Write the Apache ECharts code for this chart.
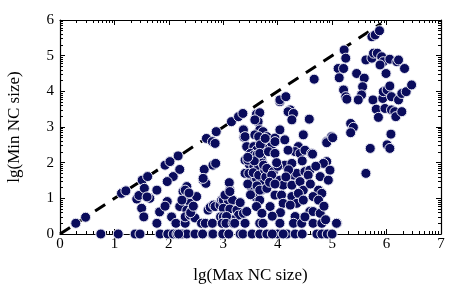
<!DOCTYPE html>
<html>
<head>
<meta charset="utf-8">
<script src="https://cdn.jsdelivr.net/npm/echarts@6/dist/echarts.min.js"></script>
<style>html,body{margin:0;padding:0;background:#fff}#c{width:458px;height:286px}</style>
</head>
<body>
<div id="c"></div>
<script>
// lg(Max NC size)
const lgMax = [
 0.29,0.47,1.13,1.21,1.41,1.45,1.51,1.61,1.55,1.50,1.54,1.65,1.60,1.78,1.78,1.83,1.93,2.02,2.17,2.08,1.97,2.20,1.97,1.93,2.05,2.13,2.20,2.26,2.33,2.34,2.39,2.33,2.42,2.51,2.30,2.30,2.39,2.48,2.24,2.30,2.37,2.40,2.45,
 2.65,2.63,2.68,2.63,2.69,2.80,2.85,2.87,2.81,2.86,2.72,2.76,2.82,2.85,2.94,2.97,3.00,3.09,3.17,3.03,3.12,3.11,3.12,3.00,3.12,3.25,3.28,3.37,3.31,3.43,2.95,3.00,3.09,3.15,3.06,2.60,2.67,2.80,2.98,3.05,3.18,3.21,3.40,3.67,
 3.15,3.28,3.36,3.37,3.38,3.40,3.43,3.40,3.40,3.61,3.67,3.64,3.58,3.67,3.73,3.58,3.56,3.61,3.65,3.80,3.95,3.88,3.74,3.68,
 3.50,3.55,3.62,3.70,3.48,3.56,3.64,3.72,3.52,3.61,3.71,3.52,3.60,3.70,3.58,3.67,3.61,3.71,3.47,3.55,3.65,3.45,3.50,3.45,3.57,3.62,3.76,3.78,3.45,
 4.04,4.04,4.15,4.23,4.19,4.29,4.26,4.58,4.04,4.47,4.99,4.90,3.77,3.95,4.13,4.38,4.32,4.41,4.50,4.62,4.64,4.19,3.67,3.83,3.95,4.90,4.84,4.13,4.26,3.74,3.80,3.92,3.89,4.29,4.35,4.50,4.59,4.56,4.78,4.96,4.93,4.04,4.10,4.26,4.41,4.47,3.67,3.80,3.95,4.07,4.75,4.81,4.65,4.75,4.26,4.35,4.38,4.47,3.86,4.10,4.23,4.59,4.65,4.32,4.78,3.73,4.04,4.29,4.44,4.65,4.81,5.09,4.00,3.98,4.20,4.15,3.85,3.95,4.60,4.70,4.45,4.05,3.90,4.50,4.85,4.88,
 4.67,4.90,5.01,5.11,5.21,5.13,5.22,5.25,5.21,5.25,5.27,5.45,5.59,5.56,5.54,5.48,5.73,5.79,5.87,5.62,5.73,5.76,5.83,5.91,5.94,5.88,5.99,6.06,6.19,6.22,6.33,5.75,5.81,5.85,5.93,5.94,6.01,6.06,5.97,6.09,6.15,6.17,6.28,6.09,6.22,6.28,6.36,6.46,5.34,5.39,5.34,6.08,6.01,6.06,5.70,5.62,5.08,
 0.75,1.07,1.38,1.47,1.84,1.98,2.08,2.15,2.24,2.33,2.48,2.79,2.81,2.98,2.99,3.31,3.36,3.53,3.67,3.80,4.00,4.17,4.32,4.45,4.72,4.81,4.91,5.00,2.18,2.62,3.10,3.90,4.10
];
// lg(Min NC size)
const lgMin = [
 0.30,0.47,1.14,1.21,0.98,1.08,1.51,1.61,1.28,0.72,0.48,1.00,1.04,1.23,0.30,0.62,1.93,2.03,2.19,1.61,1.47,1.81,0.91,0.78,0.48,0.30,0.77,1.19,1.33,1.09,0.86,0.67,0.67,1.05,0.30,0.48,0.53,0.45,0.95,1.23,1.15,0.60,0.78,
 1.81,1.51,1.42,1.56,2.68,2.59,2.54,2.87,1.93,1.98,0.67,0.75,0.81,0.77,0.81,0.95,0.95,0.95,0.95,1.09,1.23,1.44,1.19,0.72,0.70,0.67,0.53,0.58,0.88,0.63,0.48,0.48,0.45,0.40,0.49,0.30,0.30,0.30,0.30,0.30,0.30,0.30,0.30,0.30,
 3.15,3.29,3.38,2.92,2.71,2.73,2.45,2.07,1.70,3.36,3.40,3.15,3.20,2.92,2.87,2.78,2.45,2.35,2.73,2.73,2.69,2.45,2.40,2.50,
 2.26,2.20,2.22,2.10,1.95,1.90,1.86,1.99,1.51,1.56,1.47,1.30,1.14,1.23,1.05,0.95,0.77,0.58,1.70,1.72,1.65,1.40,1.10,2.07,2.05,1.35,1.80,1.60,2.15,
 3.71,3.76,3.85,3.48,3.43,3.38,3.20,3.22,2.92,2.78,2.73,2.59,2.68,2.59,2.64,2.45,2.31,2.26,2.35,2.26,2.24,2.35,2.26,2.31,2.26,2.03,1.98,1.93,1.98,1.93,1.84,1.75,1.65,1.65,1.70,1.75,1.79,1.65,1.61,1.79,1.51,1.51,1.37,1.37,1.47,1.23,1.23,1.28,1.09,1.09,1.23,1.14,1.05,0.95,1.05,0.86,1.14,0.95,0.77,0.86,0.81,0.63,0.63,0.49,0.58,0.30,0.30,0.30,0.30,0.30,0.30,0.30,1.90,2.00,1.80,1.60,1.45,1.40,1.40,1.90,2.05,0.60,0.50,0.48,0.78,0.40,
 4.34,2.56,2.70,4.64,4.64,4.38,5.16,4.93,4.04,3.85,3.78,4.50,4.37,4.13,3.90,3.76,5.53,5.58,5.70,4.88,4.93,5.07,5.07,4.97,4.83,4.74,4.50,4.90,4.83,4.88,4.64,3.76,3.50,3.27,3.80,3.99,4.04,4.15,3.52,3.48,3.43,3.29,3.43,3.85,3.76,3.94,3.99,4.18,3.10,2.99,2.84,2.80,2.50,2.40,2.40,1.70,0.30,
 0,0,0,0,0,0,0,0,0,0,0,0,0,0,0,0,0,0,0,0,0,0,0,0,0,0,0,0,0,0,0,0,0
];
// dashed reference line y = x
const diagonal = [[0, 0], [5.9, 5.9]];
const xMajorTicks = [0,1,2,3,4,5,6,7];
const yMajorTicks = [0,1,2,3,4,5,6];

function logMinors(majors) {
  const out = [];
  for (let i = 0; i < majors.length - 1; i++)
    for (let k = 2; k <= 9; k++) out.push(majors[i] + Math.log10(k));
  return out;
}
const xMinor = logMinors(xMajorTicks);
const yMinor = logMinors(yMajorTicks);

const FONT = 'Liberation Serif';
const lineStyle = { color: '#000', width: 1.2 };

function xAx(pos, ticks, len, showLine, labels) {
  return {
    type: 'value', position: pos, min: 0, max: 7, interval: 1,
    axisLine: { show: showLine, onZero: false, lineStyle },
    axisTick: { show: true, inside: true, length: len, customValues: ticks, lineStyle: { color: '#000', width: 1 } },
    axisLabel: { show: labels, customValues: xMajorTicks, color: '#000', fontFamily: FONT, fontSize: 15, margin: 3 },
    splitLine: { show: false }
  };
}
function yAx(pos, ticks, len, showLine, labels) {
  return {
    type: 'value', position: pos, min: 0, max: 6, interval: 1,
    axisLine: { show: showLine, onZero: false, lineStyle },
    axisTick: { show: true, inside: true, length: len, customValues: ticks, lineStyle: { color: '#000', width: 1 } },
    axisLabel: { show: labels, customValues: yMajorTicks, color: '#000', fontFamily: FONT, fontSize: 15, margin: 6 },
    splitLine: { show: false }
  };
}

const xAxes = [xAx('bottom', xMajorTicks, 5, true, true), xAx('bottom', xMinor, 3, false, false),
               xAx('top', xMajorTicks, 5, true, false), xAx('top', xMinor, 3, false, false)];
xAxes[0].name = 'lg(Max NC size)';
xAxes[0].nameLocation = 'middle';
xAxes[0].nameGap = 33;
xAxes[0].nameTextStyle = { color: '#000', fontFamily: FONT, fontSize: 17 };

const yAxes = [yAx('left', yMajorTicks, 5, true, true), yAx('left', yMinor, 3, false, false),
               yAx('right', yMajorTicks, 5, true, false), yAx('right', yMinor, 3, false, false)];
yAxes[0].name = 'lg(Min NC size)';
yAxes[0].nameLocation = 'middle';
yAxes[0].nameGap = 37;
yAxes[0].nameTextStyle = { color: '#000', fontFamily: FONT, fontSize: 17 };

const chart = echarts.init(document.getElementById('c'), null, { renderer: 'canvas' });
chart.setOption({
  animation: false,
  backgroundColor: '#fff',
  grid: { left: 60, right: 17, top: 20, bottom: 52, containLabel: false, outerBoundsMode: 'none' },
  xAxis: xAxes,
  yAxis: yAxes,
  series: [
    {
      type: 'line', data: diagonal, symbol: 'none', z: 1, silent: true,
      lineStyle: { color: '#000', width: 3, type: [12, 9] }
    },
    {
      type: 'scatter', z: 2, symbol: 'circle', symbolSize: 10,
      data: lgMax.map((x, i) => [x, lgMin[i]]),
      itemStyle: { color: '#0a0c5c', borderColor: '#e8e8f2', borderWidth: 1, opacity: 1 }
    }
  ]
});
</script>
</body>
</html>
